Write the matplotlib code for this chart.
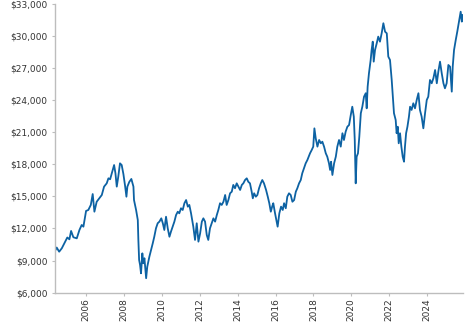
import matplotlib
matplotlib.use("Agg")
import matplotlib.pyplot as plt
from matplotlib.ticker import FuncFormatter, FixedLocator

# decimal years and portfolio values (USD)
years = [2004.36, 2004.45, 2004.58, 2004.72, 2004.89, 2005.01, 2005.12, 2005.21, 2005.33, 2005.51,
         2005.65, 2005.77, 2005.86, 2006.00, 2006.12, 2006.25, 2006.35, 2006.44, 2006.56, 2006.70,
         2006.83, 2006.95, 2007.09, 2007.18, 2007.27, 2007.36, 2007.48, 2007.55, 2007.62, 2007.70,
         2007.79, 2007.88, 2007.97, 2008.06, 2008.13, 2008.18, 2008.28, 2008.39, 2008.50, 2008.53,
         2008.64, 2008.73, 2008.76, 2008.80, 2008.85, 2008.90, 2008.97, 2009.02, 2009.08, 2009.17,
         2009.23, 2009.34, 2009.43, 2009.52, 2009.60, 2009.69, 2009.78, 2009.87, 2009.97, 2010.05,
         2010.13, 2010.22, 2010.31, 2010.40, 2010.48, 2010.57, 2010.66, 2010.75, 2010.84, 2010.92,
         2011.01, 2011.10, 2011.19, 2011.28, 2011.37, 2011.45, 2011.54, 2011.66, 2011.75, 2011.84,
         2011.93, 2012.02, 2012.11, 2012.19, 2012.28, 2012.37, 2012.45, 2012.54, 2012.63, 2012.72,
         2012.81, 2012.90, 2012.98, 2013.07, 2013.16, 2013.25, 2013.34, 2013.42, 2013.51, 2013.60,
         2013.69, 2013.77, 2013.86, 2013.95, 2014.04, 2014.13, 2014.22, 2014.30, 2014.39, 2014.48,
         2014.56, 2014.65, 2014.74, 2014.80, 2014.87, 2014.96, 2015.04, 2015.13, 2015.22, 2015.30,
         2015.39, 2015.50, 2015.59, 2015.67, 2015.75, 2015.82, 2015.88, 2015.97, 2016.06, 2016.11,
         2016.20, 2016.29, 2016.38, 2016.45, 2016.54, 2016.62, 2016.71, 2016.80, 2016.89, 2016.98,
         2017.07, 2017.15, 2017.24, 2017.33, 2017.41, 2017.50, 2017.59, 2017.68, 2017.82, 2017.91,
         2017.99, 2018.05, 2018.12, 2018.21, 2018.30, 2018.39, 2018.47, 2018.56, 2018.65, 2018.73,
         2018.82, 2018.88, 2018.93, 2019.00, 2019.09, 2019.18, 2019.26, 2019.35, 2019.44, 2019.53,
         2019.61, 2019.70, 2019.79, 2019.88, 2019.97, 2020.05, 2020.13, 2020.18, 2020.23, 2020.28,
         2020.35, 2020.42, 2020.50, 2020.58, 2020.67, 2020.76, 2020.81, 2020.86, 2020.93, 2021.02,
         2021.07, 2021.13, 2021.18, 2021.25, 2021.34, 2021.42, 2021.51, 2021.60, 2021.69, 2021.78,
         2021.87, 2021.95, 2022.04, 2022.13, 2022.18, 2022.25, 2022.34, 2022.39, 2022.45, 2022.50,
         2022.57, 2022.64, 2022.71, 2022.78, 2022.83, 2022.89, 2022.96, 2023.04, 2023.10, 2023.18,
         2023.27, 2023.36, 2023.45, 2023.54, 2023.62, 2023.71, 2023.80, 2023.89, 2023.98, 2024.06,
         2024.15, 2024.24, 2024.33, 2024.42, 2024.51, 2024.59, 2024.68, 2024.77, 2024.86, 2024.94,
         2025.03, 2025.12, 2025.21, 2025.30, 2025.35, 2025.42, 2025.51, 2025.59, 2025.68, 2025.77,
         2025.83, 2025.87]

values = [9900, 10220, 9830, 10150, 10740, 11160, 10990, 11770, 11180, 11080,
          11860, 12330, 12170, 13640, 13730, 14200, 15220, 13570, 14500, 14820,
          15130, 15910, 16220, 16690, 16600, 17160, 17930, 17160, 15910, 16840,
          18090, 17930, 17090, 15970, 14970, 15910, 16350, 16630, 15910, 14660,
          13730, 12790, 10930, 9060, 8590, 7810, 9680, 8750, 9220, 7350,
          8430, 9360, 9990, 10620, 11230, 12020, 12490, 12640, 12950, 12490,
          11860, 13100, 12020, 11230, 11700, 12170, 12640, 13260, 13570, 13420,
          13890, 13730, 14360, 14660, 14040, 14200, 13420, 12170, 10930, 12490,
          10770, 11550, 12640, 12950, 12640, 11390, 10930, 12020, 12490, 12950,
          12640, 13260, 13730, 14360, 14200, 14500, 15130, 14200, 14660, 15290,
          15440, 16070, 15760, 16220, 15910, 15600, 16070, 16220, 16530, 16690,
          16370, 16220, 15440, 14820, 15290, 14970, 15130, 15760, 16220, 16530,
          16220, 15600, 14970, 14360, 13570, 14040, 14360, 13450, 12640, 12170,
          13420, 14040, 13730, 14360, 13890, 14970, 15290, 15130, 14500, 14660,
          15440, 15760, 16220, 16530, 17160, 17630, 18090, 18400, 19030, 19340,
          19650, 21360, 20430, 19650, 20270, 19960, 20110, 19650, 19030, 18710,
          18090, 17470, 18240, 17000, 18090, 18710, 19650, 20270, 19650, 20900,
          20270, 21050, 21510, 21670, 22610, 23380, 22450, 20270, 16220, 18710,
          19030, 20580, 22770, 23380, 24320, 24640, 23230, 25250, 26510, 27750,
          28680, 29460, 27590, 28680, 29310, 29930, 29460, 30240, 31180, 30390,
          30240, 28060, 27750, 25880, 24640, 22770, 22140, 20900, 21510, 19960,
          20900, 19650, 18710, 18240, 19650, 20900, 21510, 22450, 23380, 23080,
          23700, 23230, 24010, 24640, 23080, 22450, 21360, 22770, 24010, 24320,
          25880, 25570, 26040, 26810, 25570, 26650, 27590, 26510, 25570, 25100,
          25570, 27280, 27120, 24790, 27120, 28680, 29620, 30390, 31330, 32260,
          31330, 31950]

x_ticks = [2006, 2008, 2010, 2012, 2014, 2016, 2018, 2020, 2022, 2024]
y_ticks = [6000, 9000, 12000, 15000, 18000, 21000, 24000, 27000, 30000, 33000]

fig = plt.figure(figsize=(4.7, 3.25), dpi=100)
ax = fig.add_axes([0.117, 0.0994, 0.868, 0.889])
ax.plot(years, values, color="#0d62a3", linewidth=1.3, solid_joinstyle="round")

ax.set_xlim(2004.36, 2025.89)
ax.set_ylim(6000, 33000)
ax.xaxis.set_major_locator(FixedLocator(x_ticks))
ax.yaxis.set_major_locator(FixedLocator(y_ticks))
ax.xaxis.set_major_formatter(FuncFormatter(lambda v, p: f"{int(round(v))}"))
ax.yaxis.set_major_formatter(FuncFormatter(lambda v, p: f"${int(v):,}"))

for side in ("top", "right"):
    ax.spines[side].set_visible(False)
for side in ("left", "bottom"):
    ax.spines[side].set_color("#bdbdbd")
    ax.spines[side].set_linewidth(1.0)

ax.tick_params(axis="both", colors="#bdbdbd", labelcolor="#333333",
               labelsize=6.5, length=2.5, width=0.8)
ax.tick_params(axis="y", pad=3)
ax.tick_params(axis="x", pad=1.5, labelrotation=90)

fig.savefig("out.png", dpi=100)
